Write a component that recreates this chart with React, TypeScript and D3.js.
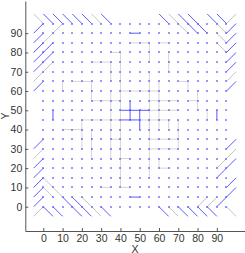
import { useEffect, useRef } from 'react'
import * as d3 from 'd3'

type Seg = [number, number, number, number]

// grid of sample points
const gridVals = [0, 5, 10, 15, 20, 25, 30, 35, 40, 45, 50, 55, 60, 65, 70, 75, 80, 85, 90, 95]
const xTicks = [0, 10, 20, 30, 40, 50, 60, 70, 80, 90]
const yTicks = [0, 10, 20, 30, 40, 50, 60, 70, 80, 90]

// blue displacement vectors [x0, y0, x1, y1]
const blueSegs: Seg[] = [
  // left
  [-5, 90, 0, 95], [-5, 85, 0, 90], [-5, 80, 0, 85], [-5, 75, 5, 85], [-5, 70, 5, 80], [-5, 60, 0, 65],
  [-5, 30, 0, 35], [-5, 20, 0, 25], [-5, 15, 0, 20], [-5, 10, 0, 15], [-5, 5, 0, 10], [-5, 0, 0, 5],
  // top
  [0, 100, 5, 95], [5, 100, 10, 95], [10, 100, 15, 95], [15, 100, 20, 95], [20, 100, 25, 95], [30, 100, 35, 95],
  [60, 100, 65, 95], [70, 100, 80, 90], [75, 100, 85, 90], [85, 100, 90, 95], [90, 100, 95, 95],
  // right
  [95, 90, 100, 95], [95, 85, 100, 90], [95, 80, 100, 85], [95, 75, 100, 80], [95, 70, 100, 75], [95, 60, 100, 65],
  [95, 30, 100, 35], [90, 15, 100, 25], [95, 10, 100, 15], [95, 5, 100, 10], [90, 0, 95, 5],
  // bottom
  [0, 0, 5, -5], [5, 0, 10, -5], [10, 5, 20, -5], [15, 5, 25, -5], [30, 0, 35, -5],
  [60, 0, 65, -5], [70, 0, 75, -5], [75, 0, 80, -5], [80, 0, 85, -5], [85, 0, 90, -5],
  // interior
  [40, 50, 55, 50], [45, 55, 45, 45], [50, 50, 50, 40], [40, 45, 50, 45],
  [45, 90, 50, 90], [45, 5, 50, 5], [5, 50, 5, 45], [90, 50, 90, 45],
]

// gray vectors
const graySegs: Seg[] = [
  [-5, 100, 0, 95], [-5, 80, 5, 90], [-5, 65, 5, 75], [-5, 25, 0, 30], [-5, -5, 0, 0], [0, 15, 10, 5], [0, 10, 5, 5],
  [5, 90, 10, 95], [25, 100, 30, 95], [65, 100, 75, 90], [90, 95, 95, 90], [90, 90, 95, 85], [90, 85, 95, 80],
  [95, 95, 100, 100], [95, 65, 100, 70], [90, 20, 100, 30], [65, 0, 70, -5], [80, 0, 85, 5], [85, 0, 90, 5],
  [95, 0, 100, -5], [20, 5, 30, -5],
]

// faint gray links between grid points
const linkSegs: Seg[] = [
  [10, 65, 10, 60], [15, 65, 25, 65], [25, 75, 35, 75], [35, 75, 35, 65], [35, 80, 40, 80], [40, 80, 40, 45],
  [25, 65, 25, 55], [25, 55, 40, 55], [35, 60, 35, 45], [45, 85, 55, 85], [55, 85, 55, 75], [60, 85, 65, 85],
  [65, 80, 65, 70], [70, 65, 75, 65], [75, 65, 75, 60], [40, 60, 60, 60], [55, 70, 55, 40], [60, 65, 60, 40],
  [55, 55, 70, 55], [75, 55, 80, 55], [80, 60, 80, 50], [55, 50, 70, 50], [85, 50, 85, 45],
  [10, 40, 20, 40], [20, 45, 20, 30], [25, 40, 25, 25], [20, 45, 40, 45], [35, 45, 35, 25], [35, 35, 40, 35],
  [30, 10, 35, 10], [40, 45, 40, 10], [55, 45, 55, 15], [55, 35, 70, 35], [55, 30, 70, 30], [70, 45, 70, 30],
  [60, 25, 60, 20], [60, 20, 65, 20], [40, 25, 45, 25], [40, 10, 45, 10], [50, 45, 65, 45], [65, 45, 65, 40],
]

export default function App() {
  const ref = useRef<SVGSVGElement>(null)

  useEffect(() => {
    const svg = d3.select(ref.current)
    svg.selectAll('*').remove()

    const x = d3.scaleLinear().domain([-9.34, 104.6]).range([25.3, 245])
    const y = d3.scaleLinear().domain([-12.6, 106.7]).range([231, 1])

    const pts = gridVals.flatMap((gx) => gridVals.map((gy) => [gx, gy]))

    const drawSegs = (data: Seg[], color: string) =>
      svg.append('g')
        .selectAll('line')
        .data(data)
        .join('line')
        .attr('x1', (d) => x(d[0]))
        .attr('y1', (d) => y(d[1]))
        .attr('x2', (d) => x(d[2]))
        .attr('y2', (d) => y(d[3]))
        .attr('stroke', color)
        .attr('stroke-width', 1)

    drawSegs(linkSegs, '#d6d6d6')
    drawSegs(graySegs, '#c4c4c4')
    drawSegs(blueSegs, '#5c5cff')

    svg.append('g')
      .selectAll('rect')
      .data(pts)
      .join('rect')
      .attr('x', (d) => Math.round(x(d[0])) - 0.75)
      .attr('y', (d) => Math.round(y(d[1])) - 0.75)
      .attr('width', 1.5)
      .attr('height', 1.5)
      .attr('fill', '#4a4aff')

    const font = '"Liberation Sans", Arial, sans-serif'

    const gx = svg.append('g').attr('transform', 'translate(0,231)')
      .call(d3.axisBottom(x).tickValues(xTicks).tickSizeInner(-3).tickSizeOuter(0).tickPadding(4))
    const gy = svg.append('g').attr('transform', 'translate(25.3,0)')
      .call(d3.axisLeft(y).tickValues(yTicks).tickSizeInner(-3).tickSizeOuter(0).tickPadding(3))
    for (const g of [gx, gy]) {
      g.select('.domain').attr('stroke', '#555')
      g.selectAll('.tick line').attr('stroke', '#555')
      g.selectAll('.tick text').attr('fill', '#333').attr('font-size', 10.5).attr('font-family', font)
    }

    svg.append('text').attr('x', 135).attr('y', 252.5).attr('text-anchor', 'middle')
      .attr('font-size', 10.5).attr('font-family', font).attr('fill', '#333').text('X')
    svg.append('text').attr('transform', 'translate(8.5,116) rotate(-90)').attr('text-anchor', 'middle')
      .attr('font-size', 10.5).attr('font-family', font).attr('fill', '#333').text('Y')
  }, [])

  return (
    <svg ref={ref} width={245} height={253} style={{ position: 'absolute', left: 0, top: 0, background: '#fff' }} />
  )
}
